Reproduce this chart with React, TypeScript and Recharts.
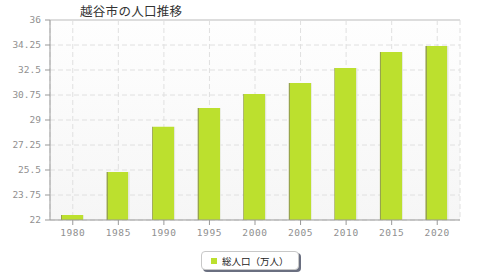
import React from "react";
import {
  BarChart,
  Bar,
  XAxis,
  YAxis,
  CartesianGrid,
  Legend,
  ReferenceLine,
} from "recharts";

// 越谷市の人口推移 (万人)
const years = ["1980", "1985", "1990", "1995", "2000", "2005", "2010", "2015", "2020"];
const population = [22.35, 25.36, 28.53, 29.84, 30.82, 31.59, 32.64, 33.76, 34.18];
const yTicks = [22, 23.75, 25.5, 27.25, 29, 30.75, 32.5, 34.25, 36];

const seriesName = "総人口（万人）";
const barColor = "#bce02e";

const data = years.map((y, i) => ({ year: y, value: population[i] }));

const yTickFont = { fill: "#909090", fontSize: 9.5, fontFamily: "'DejaVu Sans Mono', monospace" };
const xTickFont = { ...yTickFont, letterSpacing: 0.6 };

function LegendBox() {
  return (
    <div
      style={{
        width: 96,
        height: 17,
        border: "1px solid #c8c8c8",
        borderRadius: 4,
        background: "#fff",
        boxShadow: "2px 2px 0 #6a6f80",
        display: "flex",
        alignItems: "center",
        fontFamily: "'Noto Sans CJK JP', sans-serif",
        fontSize: 9.5,
        color: "#222",
      }}
    >
      <span style={{ width: 6, height: 6, background: barColor, marginLeft: 9, marginRight: 5 }} />
      <span>{seriesName}</span>
    </div>
  );
}

export default function App() {
  return (
    <div style={{ position: "absolute", left: 0, top: 0, width: 480, height: 280, background: "#fff" }}>
      <div
        style={{
          position: "absolute",
          left: 80,
          top: 1,
          fontFamily: "'Noto Sans CJK JP', sans-serif",
          fontSize: 12.5,
          color: "#333",
          letterSpacing: 0.3,
        }}
      >
        越谷市の人口推移
      </div>
      <BarChart
        width={480}
        height={280}
        data={data}
        margin={{ top: 20, right: 20, left: 0, bottom: 30 }}
      >
        <defs>
          <linearGradient id="plotBg" x1="0" y1="0" x2="0" y2="1">
            <stop offset="0%" stopColor="#fefefe" />
            <stop offset="100%" stopColor="#f6f6f6" />
          </linearGradient>
          <linearGradient id="barFill" x1="0" y1="0" x2="1" y2="0">
            <stop offset="0%" stopColor="#97a44c" />
            <stop offset="5%" stopColor="#97a44c" />
            <stop offset="5%" stopColor={barColor} />
            <stop offset="95%" stopColor={barColor} />
            <stop offset="95%" stopColor="#e4e8d8" />
            <stop offset="100%" stopColor="#e4e8d8" />
          </linearGradient>
        </defs>
        <CartesianGrid
          fill="url(#plotBg)"
          stroke="#e0e0e0"
          strokeDasharray="5 3"
          strokeWidth={1}
        />
        <XAxis
          dataKey="year"
          tick={xTickFont}
          tickLine={{ stroke: "#999" }}
          axisLine={{ stroke: "#999" }}
          tickSize={5}
          tickMargin={4}
          height={30}
        />
        <YAxis
          domain={[22, 36]}
          ticks={yTicks}
          tick={yTickFont}
          tickLine={{ stroke: "#999" }}
          axisLine={{ stroke: "#999" }}
          tickSize={5}
          tickMargin={4}
          width={50}
          interval={0}
        />
        <YAxis
          yAxisId="right"
          orientation="right"
          domain={[22, 36]}
          tick={false}
          tickLine={false}
          axisLine={{ stroke: "#ddd", strokeWidth: 2 }}
          width={0}
        />
        <ReferenceLine y={36} stroke="#ddd" strokeWidth={2} />
        <Bar
          dataKey="value"
          name={seriesName}
          fill="url(#barFill)"
          barSize={23}
          isAnimationActive={false}
        />
        <Legend
          layout="horizontal"
          verticalAlign="middle"
          align="center"
          wrapperStyle={{ top: 251, left: 201, width: 100 }}
          content={() => <LegendBox />}
        />
      </BarChart>
    </div>
  );
}
